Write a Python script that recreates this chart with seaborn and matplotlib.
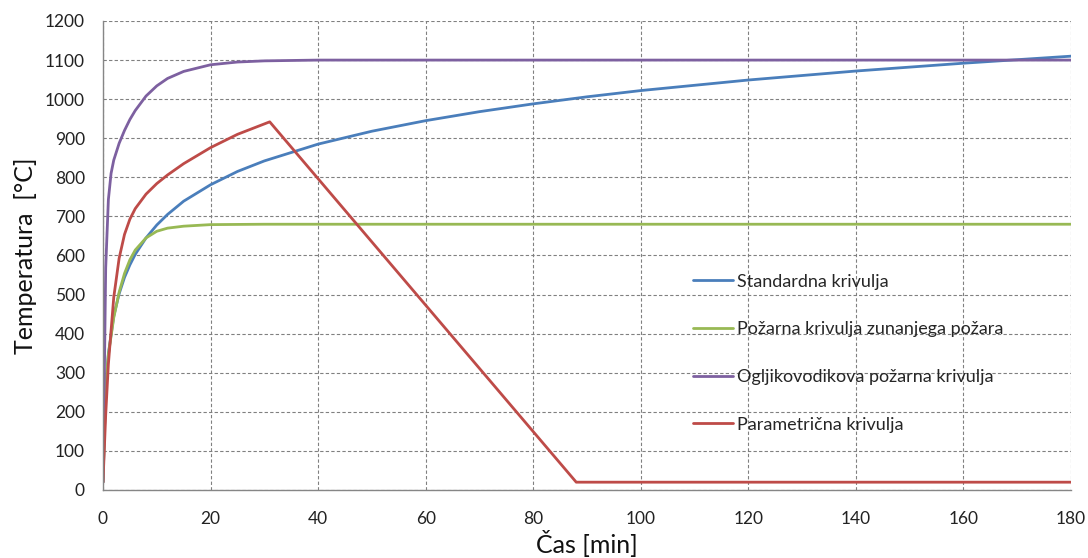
import matplotlib
matplotlib.use("Agg")
import matplotlib.pyplot as plt
import seaborn as sns
import pandas as pd

# ---- data ----
t_std = [0, 0.5, 1, 2, 3, 4, 5, 6, 8, 10, 12, 15, 20, 25, 30, 40, 50, 60, 70, 80, 90, 100, 120, 140, 160, 180]
T_std = [20, 261, 349, 445, 502, 544, 576, 603, 645, 678, 705, 739, 781, 815, 842, 885, 918, 945, 968, 988, 1006, 1022, 1049, 1072, 1092, 1110]

t_ext = [0, 0.5, 1, 2, 3, 4, 5, 6, 8, 10, 12, 15, 20, 30, 180]
T_ext = [20, 263, 346, 441, 506, 554, 589, 614, 645, 662, 670, 675, 679, 680, 680]

t_hc = [0, 0.5, 1, 1.5, 2, 3, 4, 5, 6, 8, 10, 12, 15, 20, 25, 30, 40, 180]
T_hc = [20, 568, 743, 810, 844, 887, 920, 948, 971, 1008, 1034, 1053, 1071, 1088, 1095, 1098, 1100, 1100]

t_par = [0, 0.5, 1, 2, 3, 4, 5, 6, 8, 10, 12, 15, 20, 25, 31, 88, 180]
T_par = [20, 192, 322, 493, 593, 654, 693, 720, 757, 784, 806, 835, 876, 910, 942, 20, 20]

series_names = ["Standardna krivulja",
                "Požarna krivulja zunanjega požara",
                "Ogljikovodikova požarna krivulja",
                "Parametrična krivulja"]
colors = ["#4A7EBB", "#98B954", "#7D60A0", "#BE4B48"]

x_ticks = [0, 20, 40, 60, 80, 100, 120, 140, 160, 180]
y_ticks = [0, 100, 200, 300, 400, 500, 600, 700, 800, 900, 1000, 1100, 1200]

# ---- plotting ----
sns.set_style("white")
plt.rcParams['font.family'] = ['Lato', 'DejaVu Sans']

fig = plt.figure(figsize=(10.88, 5.58), dpi=100)
ax = fig.add_axes([103/1088, 1 - 490/558, 968/1088, 469/558])

frames = []
for name, t, T in zip(series_names, [t_std, t_ext, t_hc, t_par], [T_std, T_ext, T_hc, T_par]):
    frames.append(pd.DataFrame({"t": t, "T": T, "serie": name}))
df = pd.concat(frames, ignore_index=True)

sns.lineplot(data=df, x="t", y="T", hue="serie", hue_order=series_names,
             palette=colors, linewidth=2.0, ax=ax, sort=False, estimator=None)

ax.set_xlim(0, 180)
ax.set_ylim(0, 1200)
ax.set_xticks(x_ticks)
ax.set_yticks(y_ticks)
ax.tick_params(axis='both', length=0, labelsize=12.5, colors="#222222")
ax.tick_params(axis='y', pad=13)
ax.tick_params(axis='x', pad=15)

ax.grid(True, linestyle=(0, (3, 2)), color="#808080", linewidth=0.8)
ax.set_axisbelow(True)
for s in ["top", "right"]:
    ax.spines[s].set_visible(False)
for s in ["left", "bottom"]:
    ax.spines[s].set_color("#868686")
    ax.spines[s].set_linewidth(1.0)

ax.set_xlabel("Čas [min]", fontsize=18, color="#111111", labelpad=2)
ax.set_ylabel("Temperatura  [°C]", fontsize=18, color="#111111", labelpad=6)

leg = ax.legend(loc="upper left", bbox_to_anchor=(0.6095, 0.461), frameon=False,
                fontsize=13, handlelength=2.2, handletextpad=0.25,
                labelspacing=1.75, borderpad=0, borderaxespad=0)
for line in leg.get_lines():
    line.set_linewidth(2.0)

fig.savefig("out.png", dpi=100)
